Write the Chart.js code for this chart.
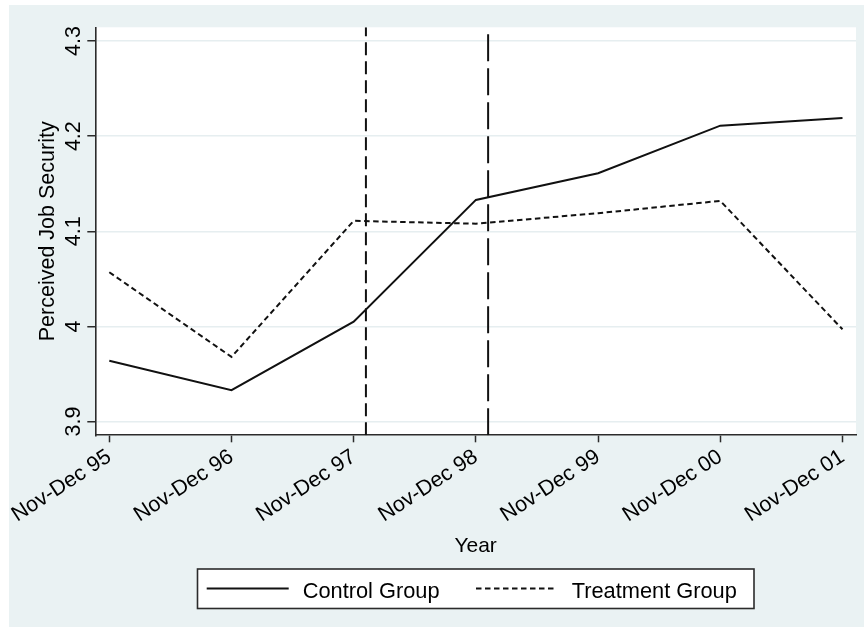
<!DOCTYPE html>
<html>
<head>
<meta charset="utf-8">
<script src="https://cdn.jsdelivr.net/npm/chart.js@4.4.1/dist/chart.umd.min.js"></script>
<style>
  html, body { margin: 0; padding: 0; background: #ffffff; }
  #wrap { width: 864px; height: 635px; position: relative; }
</style>
</head>
<body>
<div id="wrap"><canvas id="c" width="864" height="635"></canvas></div>
<script>
// ---- data ----
const categories = ['Nov-Dec 95', 'Nov-Dec 96', 'Nov-Dec 97', 'Nov-Dec 98', 'Nov-Dec 99', 'Nov-Dec 00', 'Nov-Dec 01'];
const controlValues = [3.964, 3.933, 4.005, 4.133, 4.161, 4.211, 4.219];
const treatmentValues = [4.057, 3.968, 4.111, 4.108, 4.119, 4.132, 3.997];
const yTickValues = [3.9, 4.0, 4.1, 4.2, 4.3];
const yTickLabels = ['3.9', '4', '4.1', '4.2', '4.3'];
const referenceLines = [2.1, 3.1];
const seriesNames = ['Control Group', 'Treatment Group'];
const yAxisTitle = 'Perceived Job Security';
const xAxisTitle = 'Year';

// ---- styling / axis ranges ----
const FONT = "'Liberation Sans', Arial, sans-serif";
const Y_MIN = 3.8856, Y_MAX = 4.3144;
const X_MIN = -0.1146, X_MAX = 6.1105;
const INK = '#111111';
const AXIS = '#2b2b2b';
const GRID = '#E6EEF0';
const BG = '#EAF2F3';

const toXY = arr => arr.map((v, i) => ({ x: i, y: v }));

const bgPlugin = {
  id: 'bg',
  beforeDraw(chart) {
    const ctx = chart.ctx, a = chart.chartArea;
    ctx.save();
    ctx.fillStyle = '#ffffff';
    ctx.fillRect(0, 0, chart.width, chart.height);
    ctx.fillStyle = BG;
    ctx.fillRect(9, 5, chart.width - 9, 622);
    ctx.fillStyle = '#ffffff';
    ctx.fillRect(a.left, a.top, a.right - a.left, a.bottom - a.top);
    ctx.restore();
  }
};

const textPlugin = {
  id: 'texts',
  afterDraw(chart) {
    const ctx = chart.ctx, a = chart.chartArea;
    const ys = chart.scales.y;
    ctx.save();
    ctx.fillStyle = '#000';
    // y tick labels (rotated, as in the original)
    ctx.font = '21.5px ' + FONT;
    ctx.textAlign = 'center';
    ctx.textBaseline = 'alphabetic';
    yTickValues.forEach((v, i) => {
      const py = ys.getPixelForValue(v);
      ctx.save();
      ctx.translate(80, py);
      ctx.rotate(-Math.PI / 2);
      ctx.fillText(yTickLabels[i], 0, 0);
      ctx.restore();
    });
    // y axis title
    ctx.save();
    ctx.font = '21.5px ' + FONT;
    ctx.translate(53.5, (a.top + a.bottom) / 2);
    ctx.rotate(-Math.PI / 2);
    ctx.fillText(yAxisTitle, 0, 0);
    ctx.restore();
    // x axis title
    ctx.font = '21px ' + FONT;
    ctx.fillText(xAxisTitle, (a.left + a.right) / 2, 552);

    // legend box
    const bx = 197.5, by = 569, bw = 556.5, bh = 39.5;
    ctx.fillStyle = '#ffffff';
    ctx.fillRect(bx, by, bw, bh);
    ctx.strokeStyle = AXIS;
    ctx.lineWidth = 1.6;
    ctx.strokeRect(bx, by, bw, bh);
    const ly = 588.5;
    const items = [
      { x0: 206.7, x1: 288.7, tx: 302.7 },
      { x0: 476, x1: 557, tx: 571.7 }
    ];
    ctx.font = '21.8px ' + FONT;
    ctx.textAlign = 'left';
    ctx.textBaseline = 'alphabetic';
    items.forEach((it, i) => {
      const ds = chart.data.datasets[i];
      ctx.beginPath();
      ctx.strokeStyle = ds.borderColor;
      ctx.lineWidth = 2;
      ctx.setLineDash(ds.borderDash || []);
      ctx.moveTo(it.x0, ly);
      ctx.lineTo(it.x1, ly);
      ctx.stroke();
      ctx.setLineDash([]);
      ctx.fillStyle = '#000';
      ctx.fillText(ds.label, it.tx, 597.5);
    });
    ctx.restore();
  }
};

const datasets = [
  {
    label: seriesNames[0],
    data: toXY(controlValues),
    borderColor: INK,
    borderWidth: 2,
    pointRadius: 0,
    tension: 0,
    fill: false
  },
  {
    label: seriesNames[1],
    data: toXY(treatmentValues),
    borderColor: INK,
    borderWidth: 2,
    borderDash: [5.5, 3.5],
    pointRadius: 0,
    tension: 0,
    fill: false
  },
  {
    label: 'ref1',
    data: [{ x: referenceLines[0], y: Y_MIN }, { x: referenceLines[0], y: Y_MAX }],
    borderColor: INK,
    borderWidth: 2,
    borderDash: [13, 6],
    pointRadius: 0,
    fill: false
  },
  {
    label: 'ref2',
    data: [{ x: referenceLines[1], y: Y_MIN }, { x: referenceLines[1], y: Y_MAX }],
    borderColor: INK,
    borderWidth: 2,
    borderDash: [27, 7],
    pointRadius: 0,
    fill: false
  }
];

new Chart(document.getElementById('c'), {
  type: 'line',
  data: { datasets },
  options: {
    responsive: false,
    animation: false,
    devicePixelRatio: 1,
    layout: { padding: { top: 27.3, right: 8, bottom: 0, left: 0 } },
    plugins: {
      legend: { display: false },
      tooltip: { enabled: false },
      title: { display: false }
    },
    scales: {
      x: {
        type: 'linear',
        min: X_MIN,
        max: X_MAX,
        afterBuildTicks: s => { s.ticks = categories.map((_, i) => ({ value: i })); },
        afterFit: s => { s.height = 635 - 27.3 - 408; },
        ticks: {
          autoSkip: false,
          minRotation: 33,
          maxRotation: 33,
          padding: 2,
          color: '#000',
          font: { family: FONT, size: 21.5 },
          callback: v => categories[v]
        },
        grid: {
          drawOnChartArea: false,
          drawTicks: true,
          tickLength: 7,
          tickColor: AXIS,
          tickWidth: 1.5
        },
        border: { display: true, color: AXIS, width: 1.6 }
      },
      y: {
        type: 'linear',
        min: Y_MIN,
        max: Y_MAX,
        afterBuildTicks: s => { s.ticks = yTickValues.map(v => ({ value: v })); },
        afterFit: s => { s.width = 95.3; },
        ticks: { display: false },
        grid: {
          color: GRID,
          lineWidth: 1.5,
          drawTicks: true,
          tickLength: 8,
          tickColor: AXIS,
          tickWidth: 1.5
        },
        border: { display: true, color: AXIS, width: 1.6 }
      }
    }
  },
  plugins: [bgPlugin, textPlugin]
});
</script>
</body>
</html>
